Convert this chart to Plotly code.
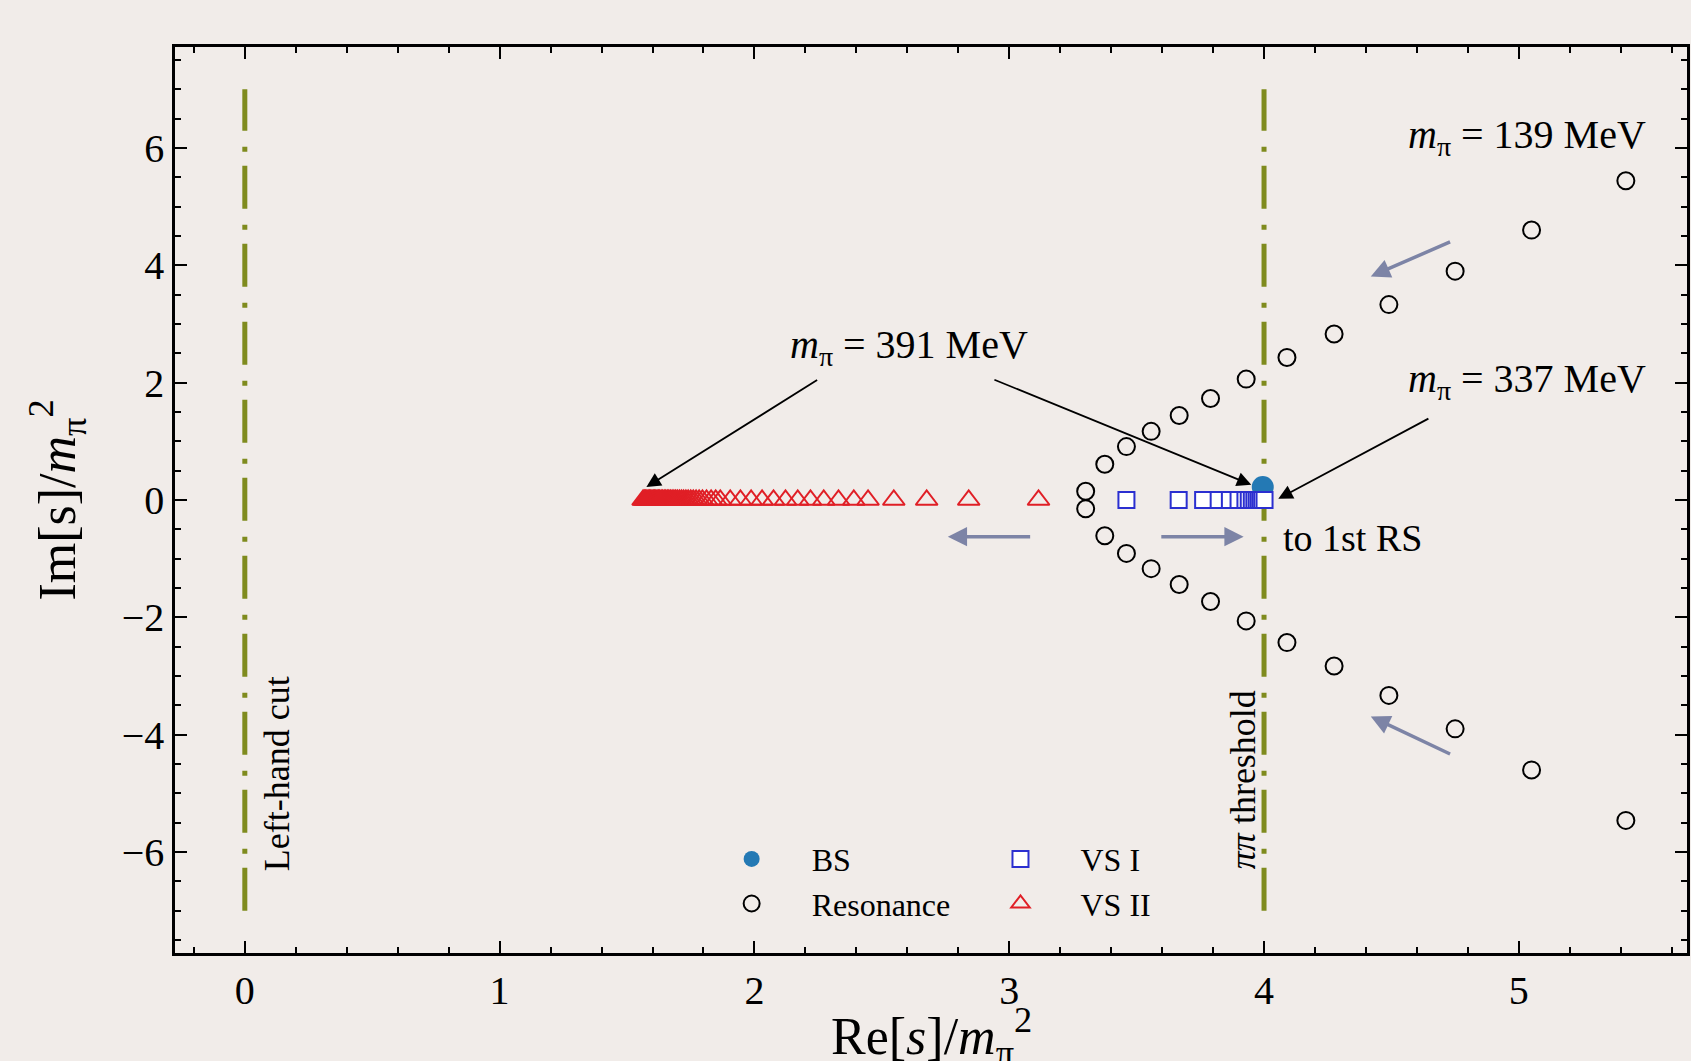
import plotly.graph_objects as go

# ---------------- data ----------------
res_x = [3.300, 3.375, 3.460, 3.557, 3.667, 3.790, 3.930, 4.090, 4.275, 4.490, 4.750, 5.050, 5.420]
res_y_upper = [0.15, 0.61, 0.91, 1.17, 1.44, 1.73, 2.06, 2.43, 2.83, 3.33, 3.90, 4.60, 5.44]
res_y_lower = [-0.15, -0.61, -0.91, -1.17, -1.44, -1.73, -2.06, -2.43, -2.83, -3.33, -3.90, -4.60, -5.46]

bs_x = [3.995]
bs_y = [0.22]

vs1_x = [3.460, 3.665, 3.761, 3.822, 3.866, 3.900, 3.927, 3.940, 3.952, 3.962, 3.971, 3.979, 3.986, 3.993, 4.002]
vs1_y = [0.0] * len(vs1_x)

vs2_x = [1.563, 1.568, 1.573, 1.578, 1.583, 1.588, 1.593, 1.598, 1.603, 1.608,
         1.613, 1.618, 1.623, 1.628, 1.634, 1.640, 1.646, 1.652, 1.658, 1.664,
         1.670, 1.677, 1.684, 1.691, 1.698, 1.706, 1.714, 1.722, 1.731, 1.740,
         1.750, 1.760, 1.771, 1.783, 1.796, 1.812, 1.830, 1.848, 1.866, 1.905,
         1.945, 1.987, 2.030, 2.075, 2.122, 2.170, 2.220, 2.272, 2.330, 2.390,
         2.446, 2.547, 2.676, 2.841, 3.115]
vs2_y = [0.0] * len(vs2_x)

cut_positions = [0, 4]
cut_extent = [-7, 7]

x_tick_vals = [0, 1, 2, 3, 4, 5]
y_tick_vals = [-6, -4, -2, 0, 2, 4, 6]

# ---------------- style ----------------
FONT = "Liberation Serif"
BG = "#f1ece9"
OLIVE = "#7f8b1e"
GRAYARROW = "#7d84a6"

fig = go.Figure()

for xc in cut_positions:
    fig.add_trace(go.Scatter(
        x=[xc, xc], y=cut_extent, mode="lines",
        line=dict(color=OLIVE, width=5, dash="43px,14px,5px,16px"),
        showlegend=False, hoverinfo="skip"))

fig.add_trace(go.Scatter(
    x=bs_x, y=bs_y, mode="markers", name="BS",
    marker=dict(symbol="circle", size=22, color="#2479b4", line=dict(width=0)),
    legend="legend"))

fig.add_trace(go.Scatter(
    x=res_x + res_x, y=res_y_upper + res_y_lower, mode="markers", name="Resonance",
    marker=dict(symbol="circle-open", size=17, color="black", line=dict(width=2)),
    legend="legend"))

fig.add_trace(go.Scatter(
    x=vs1_x, y=vs1_y, mode="markers", name="VS I",
    marker=dict(symbol="square", size=16, color="white", line=dict(width=2, color="#2b2fd0")),
    legend="legend2"))

fig.add_trace(go.Scatter(
    x=vs2_x, y=vs2_y, mode="markers", name="VS II",
    marker=dict(symbol="triangle-up-open", size=19, color="#e01f26", line=dict(width=2)),
    legend="legend2"))

annotations = []

def txt(x, y, text, size=40, angle=0):
    annotations.append(dict(x=x, y=y, xref="x", yref="y", text=text, showarrow=False,
                            textangle=angle, font=dict(family=FONT, size=size, color="black")))

txt(5.033, 6.19, "<i>m</i><sub>π</sub> = 139 MeV")
txt(2.605, 2.61, "<i>m</i><sub>π</sub> = 391 MeV")
txt(5.033, 2.03, "<i>m</i><sub>π</sub> = 337 MeV")
txt(4.348, -0.655, "to 1st RS", size=38)
txt(3.917, -4.76, "<i>ππ</i> threshold", size=36, angle=-90)
txt(0.129, -4.66, "Left-hand cut", size=36, angle=-90)

# x-axis title (placed as annotation so it can sit low, like the reference)
annotations.append(dict(x=0.5, y=-0.0925, xref="paper", yref="paper", xanchor="center", yanchor="middle",
                        text="Re[<i>s</i>]/<i>m</i><sub>π</sub><sup>2</sup>", showarrow=False,
                        font=dict(family=FONT, size=52, color="black")))

def arrow(x0, y0, x1, y1, color, width, size):
    annotations.append(dict(x=x1, y=y1, ax=x0, ay=y0, xref="x", yref="y", axref="x", ayref="y",
                            text="", showarrow=True, arrowhead=2, arrowsize=size,
                            arrowwidth=width, arrowcolor=color, standoff=0, startstandoff=0,
                            font=dict(family=FONT, size=10)))

arrow(2.252, 2.06, 1.576, 0.22, "black", 1.8, 1.6)
arrow(2.936, 2.06, 3.950, 0.26, "black", 1.8, 1.6)
arrow(4.651, 1.40, 4.056, 0.02, "black", 1.8, 1.6)
arrow(4.736, 4.41, 4.419, 3.81, GRAYARROW, 3.5, 1.1)
arrow(4.736, -4.34, 4.419, -3.69, GRAYARROW, 3.5, 1.1)
arrow(3.088, -0.625, 2.759, -0.625, GRAYARROW, 3.5, 1.1)
arrow(3.591, -0.625, 3.920, -0.625, GRAYARROW, 3.5, 1.1)

axis_common = dict(
    showgrid=False, zeroline=False, showline=True, linecolor="black", linewidth=2.5,
    mirror="allticks", ticks="inside", ticklen=12, tickwidth=2, tickcolor="black",
    tickfont=dict(family=FONT, size=40, color="black"),
)

fig.update_layout(
    width=1691, height=1061,
    margin=dict(l=175, r=1, t=47, b=108),
    paper_bgcolor=BG, plot_bgcolor=BG,
    font=dict(family=FONT, color="black"),
    xaxis=dict(range=[-0.274, 5.66], tickvals=x_tick_vals,
               minor=dict(dtick=0.2, ticks="inside", ticklen=6, tickwidth=1.5, tickcolor="black"),
               **axis_common),
    yaxis=dict(range=[-7.72, 7.72], tickvals=y_tick_vals,
               minor=dict(dtick=0.5, ticks="inside", ticklen=6, tickwidth=1.5, tickcolor="black"),
               title=dict(text="Im[s]/<i>m</i><sub>π</sub><sup>2</sup>",
                          font=dict(family=FONT, size=52), standoff=30),
               **axis_common),
    annotations=annotations,
    legend=dict(x=0.3417, y=0.134, xanchor="left", yanchor="top", bgcolor="rgba(0,0,0,0)",
                font=dict(family=FONT, size=32), itemwidth=110, tracegroupgap=0),
    legend2=dict(x=0.5195, y=0.134, xanchor="left", yanchor="top", bgcolor="rgba(0,0,0,0)",
                 font=dict(family=FONT, size=32), itemwidth=110, tracegroupgap=0),
    showlegend=True,
)

fig.write_html("out.html")
